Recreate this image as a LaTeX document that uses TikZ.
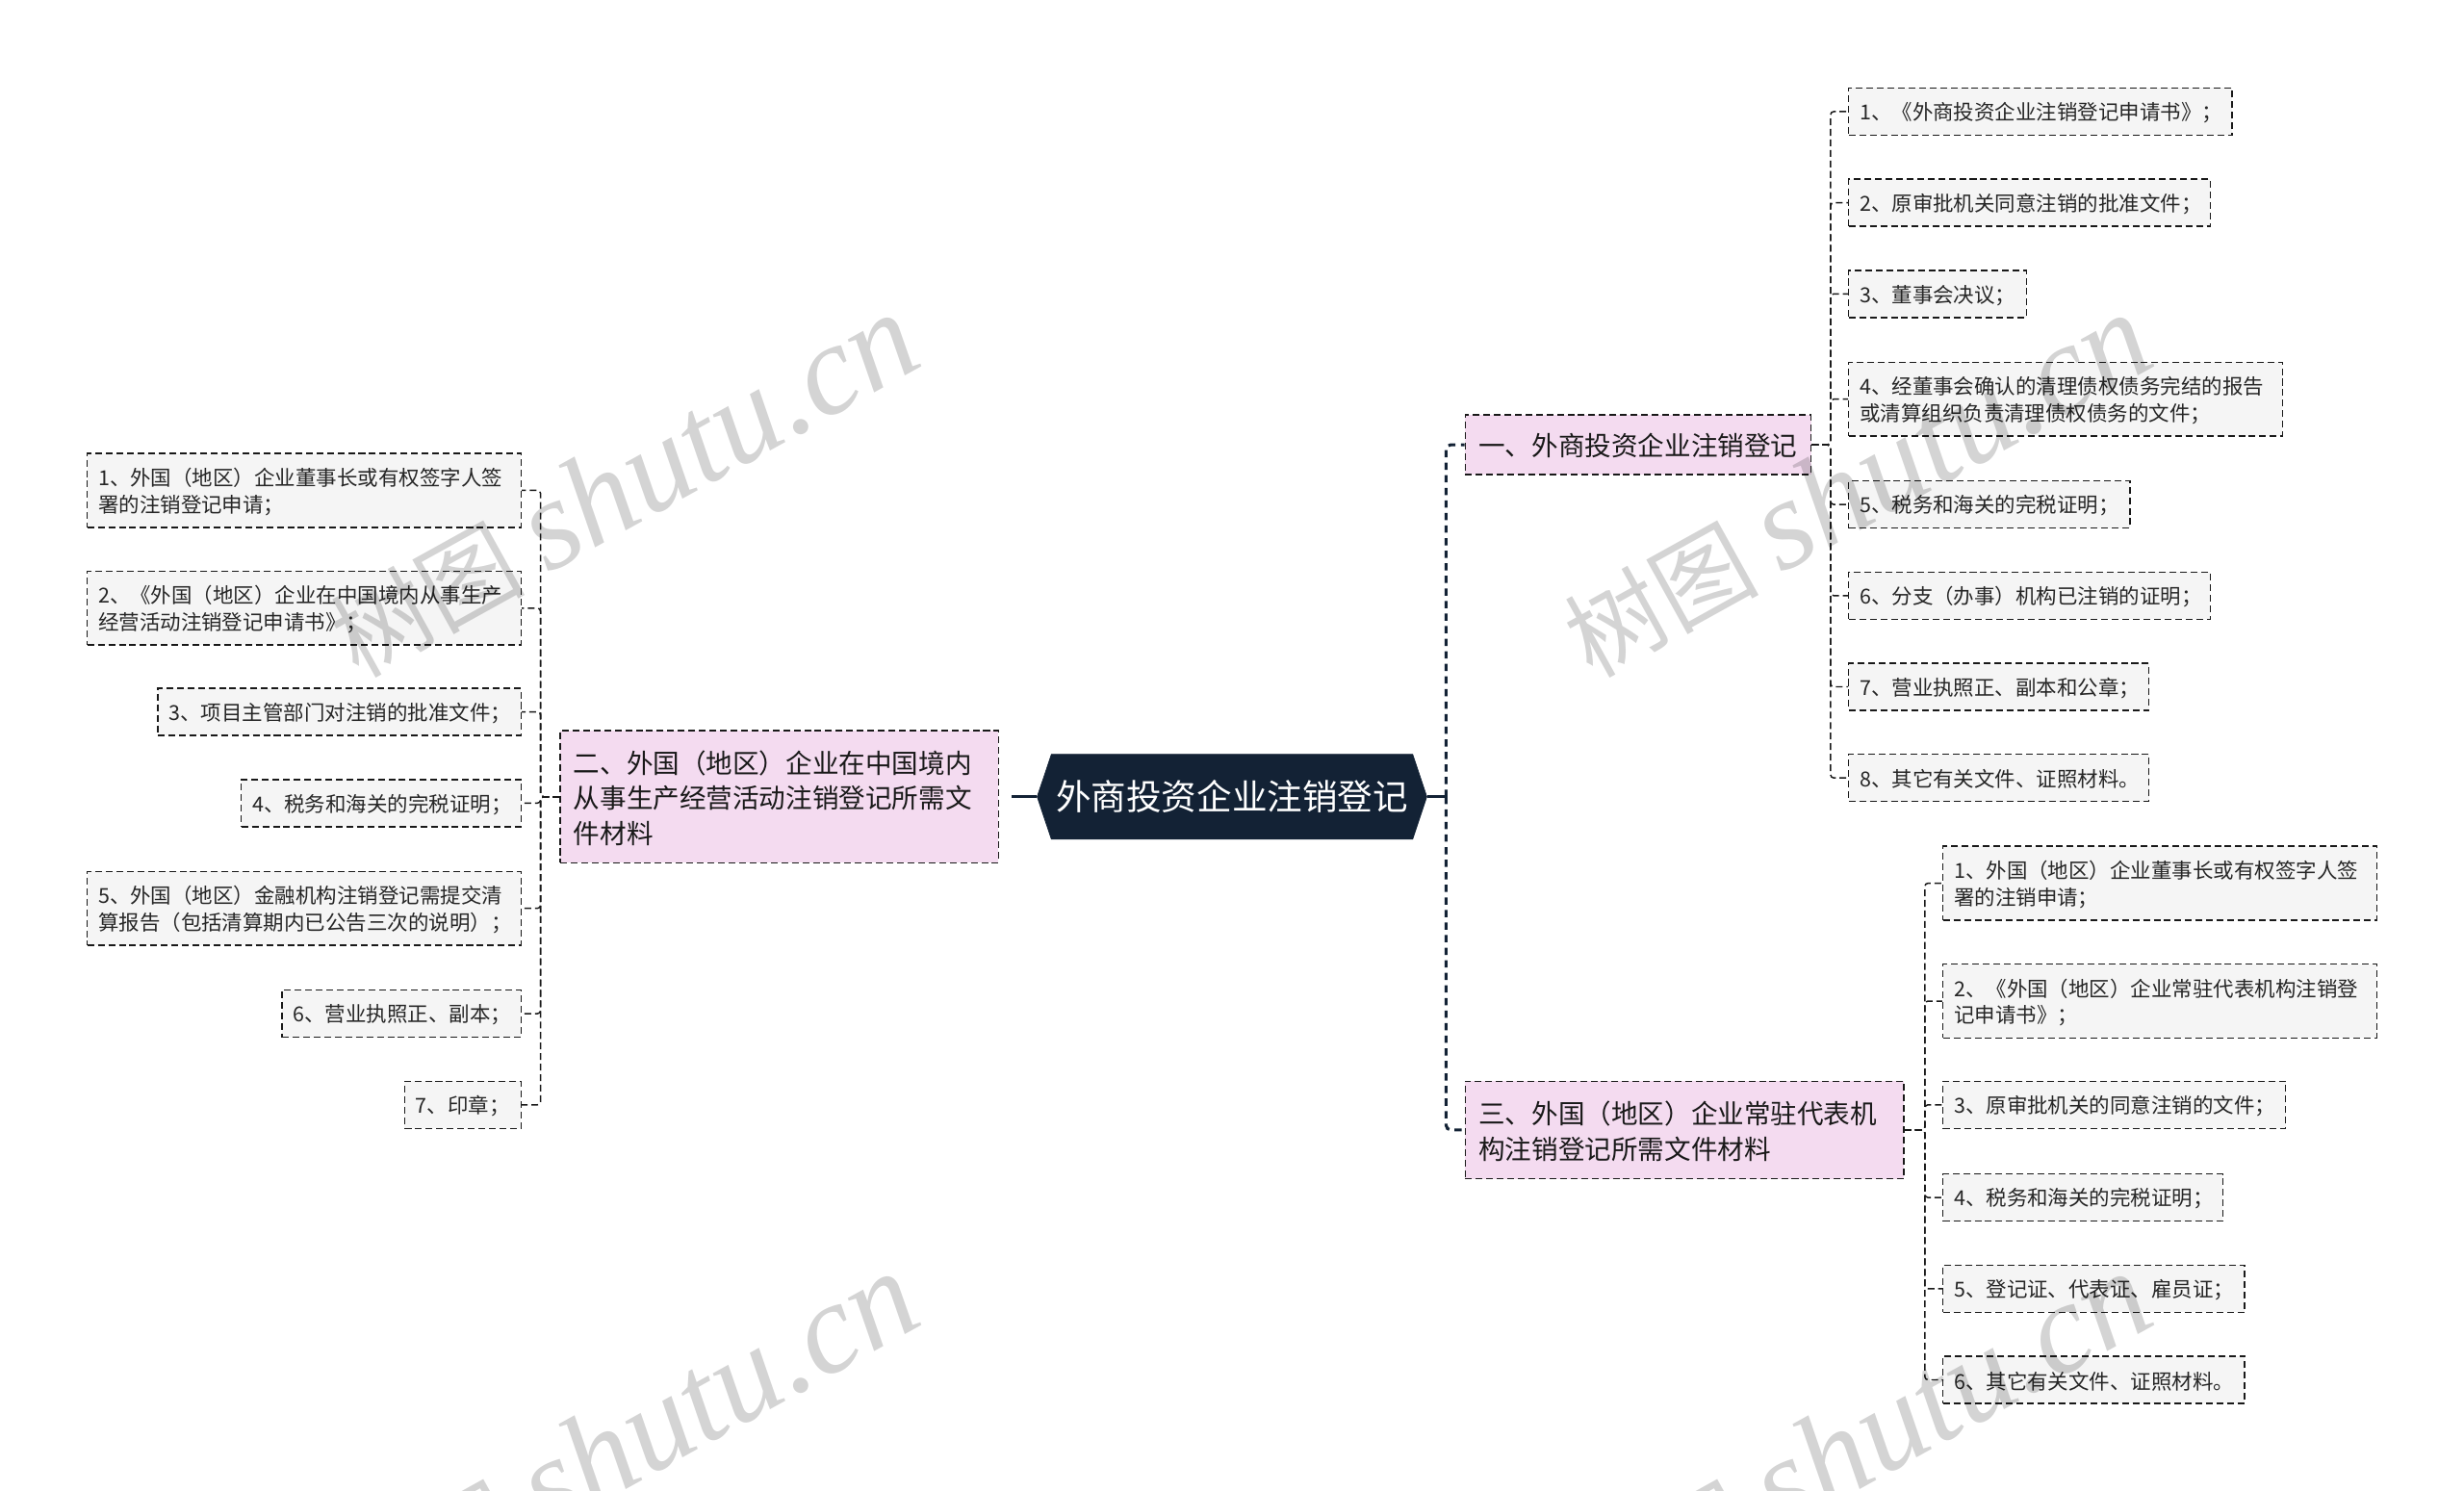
\documentclass[tikz,border=0pt]{standalone}
\usepackage{fontspec}
\setmainfont{Noto Sans CJK SC}
\newfontfamily\wmlatin{Liberation Serif}
\usetikzlibrary{positioning,calc,shapes.symbols}
\definecolor{rootblue}{HTML}{132235}
\definecolor{branchpink}{HTML}{F4DBF0}
\definecolor{leafgrey}{HTML}{F5F5F5}
\tikzset{rootbox/.style={draw=rootblue, fill=rootblue, text=white, font=\fontsize{22.4}{27}\selectfont, signal, signal to=east and west, signal pointer angle=143, inner sep=0pt, minimum height=54pt, minimum width=248pt}}
\tikzset{branchbox/.style={draw=black!90, line width=0.9pt, dash pattern=on 4.3pt off 2.4pt, fill=branchpink, text=black!90, font=\fontsize{16.9}{22.4}\selectfont, align=left, anchor=west, inner sep=0pt, inner xsep=8.5pt, text height=16pt}}
\tikzset{leafbox/.style={draw=black!90, line width=0.9pt, dash pattern=on 4.3pt off 2.4pt, fill=leafgrey, text=black!85, font=\fontsize{13.15}{17}\selectfont, align=left, inner sep=0pt, inner xsep=7pt, text height=13pt}}
\tikzset{boxw/.style={text width=#1pt-14pt}}
\tikzset{branchw/.style={text width=#1pt-17pt}}
\tikzset{trunk/.style={draw=rootblue, line width=1.9pt, dash pattern=on 4.6pt off 3.4pt, rounded corners=3pt}}
\tikzset{stub/.style={draw=rootblue, line width=1.9pt}}
\tikzset{twig/.style={draw=black!90, line width=0.9pt, dash pattern=on 4.3pt off 2.4pt, rounded corners=2pt}}
\tikzset{watermark/.style={text=black, text opacity=0.17, rotate=29, anchor=base west, font=\fontsize{62}{62}\selectfont}}
\begin{document}
\begin{tikzpicture}[x=1pt,y=-1pt]
	\useasboundingbox (0,0) rectangle (1568,948.75);
	\node[rootbox] (root) at (784,507) {外商投资企业注销登记};
	% branches
	\node[branchbox, branchw=220, minimum height=38pt] (b1) at (932,283) {一、外商投资企业注销登记};
	\node[branchbox, branchw=279, minimum height=84pt] (b2) at (356,507) {二、外国（地区）企业在中国境内\\从事生产经营活动注销登记所需文\\件材料};
	\node[branchbox, branchw=279, minimum height=62pt] (b3) at (932,719) {三、外国（地区）企业常驻代表机\\构注销登记所需文件材料};
	% leaves of the first branch
	\begin{scope}[every node/.style={leafbox, anchor=west, minimum height=30pt}]
		\node[boxw=244] (a1) at (1176,71) {1、《外商投资企业注销登记申请书》；};
		\node[boxw=230] (a2) at (1176,129) {2、原审批机关同意注销的批准文件；};
		\node[boxw=113] (a3) at (1176,187) {3、董事会决议；};
		\node[boxw=276, minimum height=47pt] (a4) at (1176,254) {4、经董事会确认的清理债权债务完结的报告\\或清算组织负责清理债权债务的文件；};
		\node[boxw=179] (a5) at (1176,321) {5、税务和海关的完税证明；};
		\node[boxw=230] (a6) at (1176,379) {6、分支（办事）机构已注销的证明；};
		\node[boxw=191] (a7) at (1176,437) {7、营业执照正、副本和公章；};
		\node[boxw=191] (a8) at (1176,495) {8、其它有关文件、证照材料。};
	\end{scope}
	% leaves of the second branch
	\begin{scope}[every node/.style={leafbox, anchor=east, minimum height=30pt}]
		\node[boxw=276, minimum height=47pt] (c1) at (332,312) {1、外国（地区）企业董事长或有权签字人签\\署的注销登记申请；};
		\node[boxw=276, minimum height=47pt] (c2) at (332,387) {2、《外国（地区）企业在中国境内从事生产\\经营活动注销登记申请书》；};
		\node[boxw=231] (c3) at (332,453) {3、项目主管部门对注销的批准文件；};
		\node[boxw=178] (c4) at (332,511) {4、税务和海关的完税证明；};
		\node[boxw=276, minimum height=47pt] (c5) at (332,578) {5、外国（地区）金融机构注销登记需提交清\\算报告（包括清算期内已公告三次的说明）；};
		\node[boxw=152] (c6) at (332,645) {6、营业执照正、副本；};
		\node[boxw=74] (c7) at (332,703) {7、印章；};
	\end{scope}
	% leaves of the third branch
	\begin{scope}[every node/.style={leafbox, anchor=west, minimum height=30pt}]
		\node[boxw=276, minimum height=47pt] (d1) at (1236,562) {1、外国（地区）企业董事长或有权签字人签\\署的注销申请；};
		\node[boxw=276, minimum height=47pt] (d2) at (1236,637) {2、《外国（地区）企业常驻代表机构注销登\\记申请书》；};
		\node[boxw=218] (d3) at (1236,703) {3、原审批机关的同意注销的文件；};
		\node[boxw=178] (d4) at (1236,762) {4、税务和海关的完税证明；};
		\node[boxw=192] (d5) at (1236,820) {5、登记证、代表证、雇员证；};
		\node[boxw=192] (d6) at (1236,878) {6、其它有关文件、证照材料。};
	\end{scope}
	% connectors
	\draw[stub, shorten >=8pt] (root.west) -- (b2.east);
	\draw[stub] (root.east) -- ++(12,0) coordinate (fork);
	\draw[trunk] (fork) |- (b1.west);
	\draw[trunk] (fork) |- (b3.west);
	\foreach \leaf in {a1,a2,a3,a4,a5,a6,a7,a8}
		\draw[twig] (b1.east) -- ++(12,0) |- (\leaf.west);
	\foreach \leaf in {c1,c2,c3,c4,c5,c6,c7}
		\draw[twig] (b2.west) -- ++(-12,0) |- (\leaf.east);
	\foreach \leaf in {d1,d2,d3,d4,d5,d6}
		\draw[twig] (b3.east) -- ++(13,0) |- (\leaf.west);
	% watermarks
	\foreach \wx/\wy/\wn in {225/434/w1,1010/434/w2,225/1044/w3,1010/1044/w4}
		\node[watermark] (\wn) at (\wx,\wy) {树图 {\wmlatin\itshape\fontsize{82}{82}\selectfont shutu.cn}};
\end{tikzpicture}
\end{document}
